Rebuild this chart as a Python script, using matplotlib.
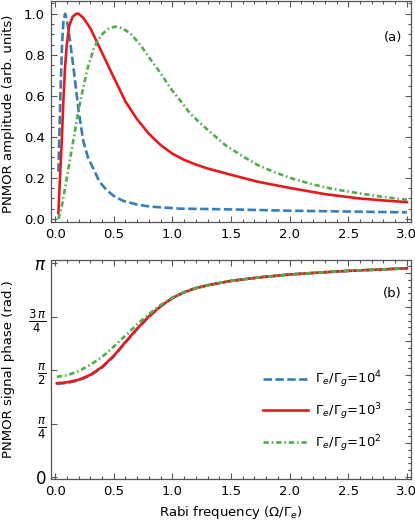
import numpy as np
import matplotlib
matplotlib.use("Agg")
import matplotlib.pyplot as plt
from matplotlib.ticker import MultipleLocator

plt.rcParams['font.family'] = ['DejaVu Sans']
plt.rcParams['mathtext.fontset'] = 'dejavusans'

# ── values ──
labels = [r'$\Gamma_e/\Gamma_g$=10$^4$', r'$\Gamma_e/\Gamma_g$=10$^3$', r'$\Gamma_e/\Gamma_g$=10$^2$']
colors = ['#377eb8', '#e41a1c', '#4daf4a']

# (a) amplitude
amp_x_blue = [0.028, 0.045, 0.06, 0.072, 0.085, 0.1, 0.12, 0.156, 0.2, 0.24, 0.28, 0.33, 0.38, 0.44,
              0.5, 0.58, 0.7, 0.81, 1.07, 1.45, 2.0, 2.5, 3.0]
amp_y_blue = [0.23, 0.6, 0.86, 0.97, 1.0, 0.97, 0.9, 0.74, 0.53, 0.38, 0.3, 0.24, 0.18, 0.14,
              0.112, 0.088, 0.07, 0.06, 0.05, 0.047, 0.04, 0.036, 0.032]

amp_x_red = [0.028, 0.04, 0.057, 0.07, 0.085, 0.1, 0.12, 0.15, 0.18, 0.2, 0.24, 0.3, 0.35, 0.4,
             0.5, 0.6, 0.7, 0.8, 0.9, 1.0, 1.1, 1.2, 1.3, 1.5, 1.73, 2.02, 2.3, 2.59, 2.8, 3.0]
amp_y_red = [0.028, 0.18, 0.38, 0.57, 0.74, 0.85, 0.94, 0.985, 1.0, 1.0, 0.98, 0.93, 0.87, 0.81,
             0.69, 0.572, 0.485, 0.415, 0.36, 0.318, 0.288, 0.265, 0.246, 0.215, 0.181, 0.149, 0.121,
             0.10, 0.09, 0.082]

amp_x_green = [0.028, 0.06, 0.1, 0.13, 0.17, 0.2, 0.24, 0.28, 0.33, 0.37, 0.41, 0.46, 0.51, 0.57,
               0.64, 0.725, 0.81, 0.9, 0.98, 1.07, 1.15, 1.25, 1.35, 1.45, 1.6, 1.73, 1.87, 2.02,
               2.16, 2.3, 2.45, 2.59, 2.75, 2.94, 3.0]
amp_y_green = [0.0, 0.07, 0.2, 0.3, 0.43, 0.53, 0.64, 0.74, 0.83, 0.875, 0.905, 0.928, 0.937, 0.93,
               0.905, 0.85, 0.78, 0.71, 0.64, 0.575, 0.515, 0.46, 0.41, 0.36, 0.305, 0.262, 0.228, 0.197,
               0.174, 0.154, 0.138, 0.125, 0.111, 0.097, 0.094]

# (b) phase, in units of pi
ph_x = [0.015, 0.1, 0.2, 0.3, 0.4, 0.5, 0.6, 0.7, 0.8, 0.9, 1.0, 1.1, 1.2, 1.32, 1.5, 1.75,
        2.0, 2.25, 2.5, 2.75, 3.0]
ph_blue = [0.436, 0.44, 0.452, 0.475, 0.512, 0.564, 0.629, 0.692, 0.75, 0.798, 0.837, 0.865, 0.884,
           0.9, 0.918, 0.935, 0.948, 0.957, 0.965, 0.971, 0.977]
ph_red = [0.439, 0.443, 0.455, 0.478, 0.515, 0.567, 0.632, 0.695, 0.752, 0.8, 0.838, 0.865, 0.884,
          0.9, 0.918, 0.935, 0.948, 0.957, 0.965, 0.971, 0.977]
ph_green = [0.469, 0.476, 0.495, 0.525, 0.562, 0.61, 0.662, 0.715, 0.763, 0.805, 0.84, 0.866, 0.884,
            0.9, 0.918, 0.935, 0.948, 0.957, 0.965, 0.971, 0.977]

styles = [dict(dashes=(3.2, 1.3)), dict(linestyle='-'), dict(dashes=(2.0, 1.1, 0.6, 1.1))]

fig = plt.figure(figsize=(4.15, 5.32), dpi=100)
ax1 = fig.add_axes([51 / 415, 1 - 222 / 532, 360 / 415, 221 / 532])
ax2 = fig.add_axes([51 / 415, 1 - 479 / 532, 360 / 415, 219 / 532])

amp = [(amp_x_blue, amp_y_blue), (amp_x_red, amp_y_red), (amp_x_green, amp_y_green)]
for (x, y), c, st in zip(amp, colors, styles):
    ax1.plot(x, y, color=c, lw=1.9, **st)

ph = [ph_blue, ph_red, ph_green]
for y, c, st, lab in zip(ph, colors, styles, labels):
    ax2.plot(ph_x, np.array(y) * np.pi, color=c, lw=1.9, label=lab, **st)

for ax in (ax1, ax2):
    ax.set_xlim(-0.035, 3.035)
    ax.xaxis.set_major_locator(MultipleLocator(0.5))
    ax.xaxis.set_minor_locator(MultipleLocator(0.1))
    ax.tick_params(which='both', direction='in', top=True, right=True, labelsize=9.5, pad=4.5,
                   color='#555555', width=0.8)
    ax.tick_params(which='major', length=4)
    ax.tick_params(which='minor', length=2.2)
    for s in ax.spines.values():
        s.set_color('#555555')
        s.set_linewidth(0.9)

ax1.set_ylim(-0.015, 1.062)
ax1.yaxis.set_major_locator(MultipleLocator(0.2))
ax1.yaxis.set_minor_locator(MultipleLocator(0.05))
ax1.set_xticklabels([f'{v:.1f}' for v in ax1.get_xticks()])
ax1.set_ylabel('PNMOR amplitude (arb. units)', fontsize=9.5)
ax1.yaxis.set_label_coords(-0.1, 0.49)
ax1.text(0.975, 0.833, '(a)', transform=ax1.transAxes, ha='right', va='center', fontsize=9.5)

ax2.set_ylim(-0.03, np.pi + 0.05)
ax2.set_yticks([0, np.pi / 4, np.pi / 2, 3 * np.pi / 4, np.pi])
ax2.set_yticklabels(['0', r'$\frac{\pi}{4}$', r'$\frac{\pi}{2}$', r'$\frac{3\,\pi}{4}$', r'$\pi$'])
ax2.tick_params(axis='y', which='major', labelsize=12, pad=3.5)
ax2.yaxis.set_minor_locator(MultipleLocator(0.1))
ax2.tick_params(axis='y', which='minor', left=False)
ax2.tick_params(axis='y', which='major', right=False)
ax2.set_xticklabels([f'{v:.1f}' for v in ax2.get_xticks()])
ax2.set_ylabel('PNMOR signal phase (rad.)', fontsize=9.5)
ax2.yaxis.set_label_coords(-0.1, 0.5)
ax2.set_xlabel(r'Rabi frequency ($\Omega/\Gamma_e$)', fontsize=9.5)
ax2.text(0.975, 0.849, '(b)', transform=ax2.transAxes, ha='right', va='center', fontsize=9.5)

# right side numeric ticks of the frame
sec = ax2.secondary_yaxis('right')
sec.yaxis.set_major_locator(MultipleLocator(0.5))
sec.yaxis.set_minor_locator(MultipleLocator(0.1))
sec.tick_params(which='both', direction='in', labelright=False, color='#555555', width=0.8)
sec.tick_params(which='major', length=4)
sec.tick_params(which='minor', length=2.2)
sec.spines['right'].set_visible(False)

ax2.legend(loc='upper left', bbox_to_anchor=(0.59, 0.50), frameon=False, fontsize=9.5,
           handlelength=3.4, handletextpad=0.5, labelspacing=0.85, borderpad=0, borderaxespad=0)

fig.savefig('out.png', dpi=100)
